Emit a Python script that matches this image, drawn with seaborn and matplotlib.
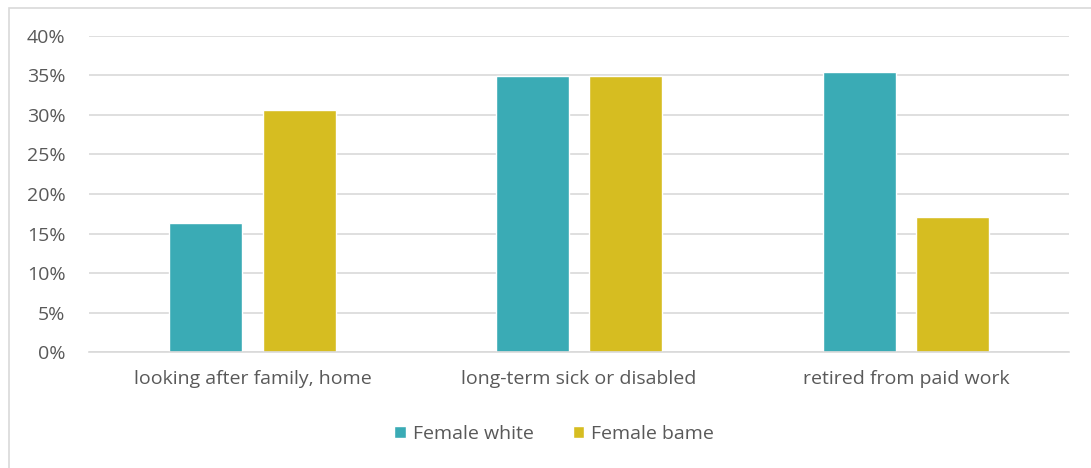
import matplotlib
matplotlib.use("Agg")
import matplotlib.pyplot as plt
from matplotlib.patches import Rectangle
from matplotlib.ticker import PercentFormatter, MultipleLocator
import pandas as pd
import seaborn as sns

categories = ["looking after family, home", "long-term sick or disabled", "retired from paid work"]
female_white = [16.3, 34.9, 35.4]
female_bame = [30.6, 34.9, 17.1]
series_names = ["Female white", "Female bame"]
palette = ["#3AABB5", "#D6BD21"]

df = pd.DataFrame({
    "category": categories * 2,
    "group": [series_names[0]] * 3 + [series_names[1]] * 3,
    "value": female_white + female_bame,
})

sns.set_theme(style="white")
plt.rcParams["font.family"] = ["Open Sans", "DejaVu Sans"]
text_color = "#595959"
grid_color = "#D9D9D9"

fig = plt.figure(figsize=(10.91, 4.68), dpi=100)
ax = fig.add_axes([0.0816, 0.247, 0.8984, 0.677])

sns.barplot(data=df, x="category", y="value", hue="group", palette=palette,
            width=0.572, gap=0.22, ax=ax, saturation=1, legend=True)

ax.set_ylim(0, 40)
ax.yaxis.set_major_locator(MultipleLocator(5))
ax.yaxis.set_major_formatter(PercentFormatter(decimals=0))
ax.set_xlim(-0.5, 2.5)
ax.set_xlabel("")
ax.set_ylabel("")
ax.grid(axis="y", color=grid_color, linewidth=1.2)
ax.set_axisbelow(True)
for side in ["top", "right", "left"]:
    ax.spines[side].set_visible(False)
ax.spines["bottom"].set_color(grid_color)
ax.spines["bottom"].set_linewidth(1.2)
ax.tick_params(axis="both", length=0, colors=text_color, labelsize=14)
ax.tick_params(axis="y", pad=17)
ax.tick_params(axis="x", pad=13)

handles, labels = ax.get_legend_handles_labels()
ax.get_legend().remove()
fig.legend(handles, labels, loc="center", bbox_to_anchor=(0.508, 0.073), ncol=2,
           frameon=False, fontsize=14, labelcolor=text_color,
           handlelength=0.6, handleheight=0.6, handletextpad=0.35, columnspacing=2.0)

# outer chart frame
fig.patches.append(Rectangle((9 / 1091, -0.1), 1.2, 1.1 - 8 / 468,
                             transform=fig.transFigure, fill=False,
                             edgecolor="#D9D9D9", linewidth=1.2))

fig.savefig("out.png", dpi=100, facecolor="white")
